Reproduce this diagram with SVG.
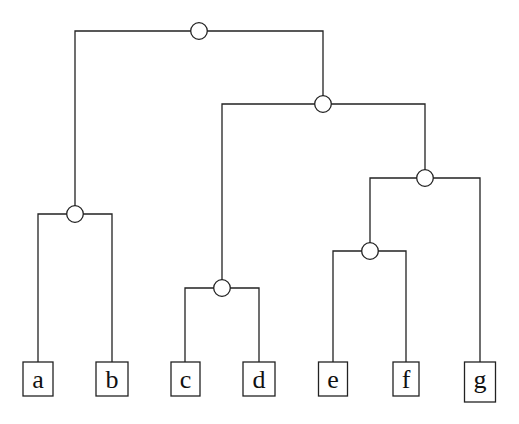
<svg xmlns="http://www.w3.org/2000/svg" width="519" height="424" viewBox="0 0 519 424">
<style>
.e{fill:none;stroke:#222;stroke-width:1.3}
.n{fill:#fff;stroke:#222;stroke-width:1.3}
.b{fill:#fff;stroke:#222;stroke-width:1.3}
.t{font-family:"Liberation Serif","DejaVu Serif",serif;font-size:26px;fill:#111;text-anchor:middle}
</style>
<rect width="519" height="424" fill="#fff"/>
<g id="connectors">
<path class="e" d="M75,214V31H323V104"/>
<path class="e" d="M38,362V214H112V362"/>
<path class="e" d="M222,288V104H425V178"/>
<path class="e" d="M185,362V288H259V362"/>
<path class="e" d="M370,251V178H480V362"/>
<path class="e" d="M333,362V251H406V362"/>
</g>
<g id="n1"><circle class="n" cx="199" cy="31" r="8.3"/></g>
<g id="n2"><circle class="n" cx="323" cy="104" r="8.3"/></g>
<g id="n3"><circle class="n" cx="75" cy="214" r="8.3"/></g>
<g id="n4"><circle class="n" cx="425" cy="178" r="8.3"/></g>
<g id="n5"><circle class="n" cx="370" cy="251" r="8.3"/></g>
<g id="n6"><circle class="n" cx="222" cy="288" r="8.3"/></g>
<g id="a"><rect class="b" x="23" y="362" width="30" height="34"/><text class="t" x="38" y="388">a</text></g>
<g id="b"><rect class="b" x="96" y="362" width="32" height="34"/><text class="t" x="112" y="388">b</text></g>
<g id="c"><rect class="b" x="171" y="362" width="29" height="34"/><text class="t" x="185.5" y="388">c</text></g>
<g id="d"><rect class="b" x="243" y="362" width="32" height="34"/><text class="t" x="259" y="388">d</text></g>
<g id="e"><rect class="b" x="318.5" y="362" width="29" height="34"/><text class="t" x="333" y="388">e</text></g>
<g id="f"><rect class="b" x="393" y="362" width="26" height="34"/><text class="t" x="406" y="388">f</text></g>
<g id="g"><rect class="b" x="464.5" y="362" width="31" height="40"/><text class="t" x="480" y="388">g</text></g>
</svg>
